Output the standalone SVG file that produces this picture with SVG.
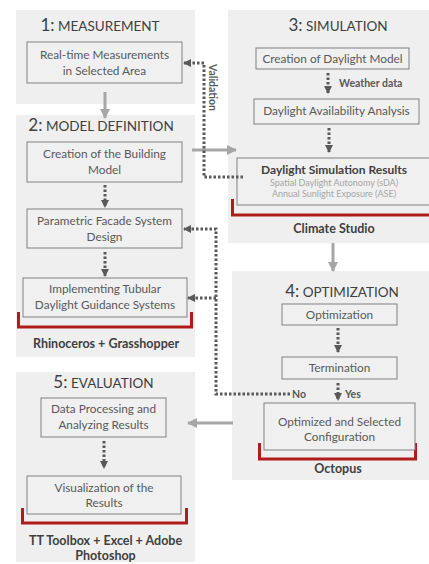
<svg xmlns="http://www.w3.org/2000/svg" width="429" height="564" viewBox="0 0 429 564">
<defs>
<marker id="ad" viewBox="0 0 8 8" refX="7" refY="4" markerWidth="8" markerHeight="8" markerUnits="userSpaceOnUse" orient="auto"><path d="M0,0 L8,4 L0,8 z" fill="#595959"/></marker>
<marker id="as" viewBox="0 0 10 10" refX="9" refY="5" markerWidth="10" markerHeight="10" markerUnits="userSpaceOnUse" orient="auto"><path d="M0,0 L10,5 L0,10 z" fill="#a6a6a6"/></marker>
</defs>
<style>
.panel{fill:#efefef}
.box{fill:#f0f0f0;stroke:#808080;stroke-width:1}
.t{font-family:Lato,"Liberation Sans",sans-serif;font-size:11.8px;fill:#595959;text-anchor:middle}
.ttl{font-family:Lato,"Liberation Sans",sans-serif;font-size:13.5px;fill:#404040;text-anchor:middle}
.num{font-size:17px}
.lbl{font-family:Lato,"Liberation Sans",sans-serif;font-size:12.5px;font-weight:bold;fill:#404040;text-anchor:middle}
.rt{font-family:Lato,"Liberation Sans",sans-serif;font-size:12px;font-weight:bold;fill:#404040;text-anchor:middle}
.sub{font-family:Lato,"Liberation Sans",sans-serif;font-size:9px;fill:#a6a6a6;text-anchor:middle}
.sm{font-family:Lato,"Liberation Sans",sans-serif;font-size:10.5px;font-weight:bold;fill:#595959}
.br{fill:none;stroke:#b01c1c;stroke-width:3}
.dot{fill:none;stroke:#595959;stroke-width:3;stroke-dasharray:2.5 2}
.sol{fill:none;stroke:#a6a6a6;stroke-width:3}
</style>
<g id="panel1">
<rect class="panel" x="16" y="10" width="179" height="94"/>
<text class="ttl" x="100" y="31"><tspan class="num">1:</tspan> MEASUREMENT</text>
</g>
<g id="n-measure">
<rect class="box" x="27" y="42" width="155" height="41"/>
<text class="t" x="104.5" y="59">Real-time Measurements</text>
<text class="t" x="104.5" y="75">in Selected Area</text>
</g>
<g id="panel2">
<rect class="panel" x="16" y="115" width="179" height="242"/>
<text class="ttl" x="101" y="131"><tspan class="num">2:</tspan> MODEL DEFINITION</text>
<path class="br" d="M18.5,312 V327 H191.5 V312"/>
<text class="lbl" x="106" y="348">Rhinoceros + Grasshopper</text>
</g>
<g id="n-building">
<rect class="box" x="27" y="142" width="155" height="40"/>
<text class="t" x="104.5" y="158">Creation of the Building</text>
<text class="t" x="104.5" y="174">Model</text>
</g>
<g id="n-facade">
<rect class="box" x="27" y="209" width="155" height="39"/>
<text class="t" x="104.5" y="225">Parametric Facade System</text>
<text class="t" x="104.5" y="241">Design</text>
</g>
<g id="n-tubular">
<rect class="box" x="23" y="278" width="164" height="39"/>
<text class="t" x="105" y="293">Implementing Tubular</text>
<text class="t" x="105" y="309">Daylight Guidance Systems</text>
</g>
<g id="panel5">
<rect class="panel" x="16" y="372" width="179" height="190"/>
<text class="ttl" x="103.5" y="388"><tspan class="num">5:</tspan> EVALUATION</text>
<path class="br" d="M22.5,508 V523 H186.5 V508"/>
<text class="lbl" x="105.5" y="545">TT Toolbox + Excel + Adobe</text>
<text class="lbl" x="105.5" y="560">Photoshop</text>
</g>
<g id="n-data">
<rect class="box" x="41" y="398" width="125" height="39"/>
<text class="t" x="103.5" y="413">Data Processing and</text>
<text class="t" x="103.5" y="429">Analyzing Results</text>
</g>
<g id="n-visual">
<rect class="box" x="27" y="476" width="154" height="38"/>
<text class="t" x="104" y="492">Visualization of the</text>
<text class="t" x="104" y="507">Results</text>
</g>
<g id="panel3">
<rect class="panel" x="228" y="10" width="201" height="233"/>
<text class="ttl" x="338" y="31"><tspan class="num">3:</tspan> SIMULATION</text>
<path class="br" d="M232.5,199 V215 H430"/>
<text class="lbl" x="334" y="233">Climate Studio</text>
</g>
<g id="n-daymodel">
<rect class="box" x="256" y="48" width="153" height="21"/>
<text class="t" x="332.5" y="63">Creation of Daylight Model</text>
</g>
<g id="n-avail">
<rect class="box" x="254" y="99" width="165" height="25"/>
<text class="t" x="336.5" y="115">Daylight Availability Analysis</text>
</g>
<g id="n-results">
<rect class="box" x="237" y="158" width="195" height="47"/>
<text class="rt" x="334" y="174">Daylight Simulation Results</text>
<text class="sub" x="334" y="186">Spatial Daylight Autonomy (sDA)</text>
<text class="sub" x="334" y="197">Annual Sunlight Exposure (ASE)</text>
</g>
<g id="panel4">
<rect class="panel" x="232" y="271" width="197" height="209"/>
<text class="ttl" x="342" y="297"><tspan class="num">4:</tspan> OPTIMIZATION</text>
<path class="br" d="M259.5,443 V459 H415.5 V443"/>
<text class="lbl" x="338" y="473">Octopus</text>
</g>
<g id="n-opt">
<rect class="box" x="282" y="304" width="115" height="21"/>
<text class="t" x="339.5" y="319">Optimization</text>
</g>
<g id="n-term">
<rect class="box" x="282" y="357" width="115" height="22"/>
<text class="t" x="339.5" y="372">Termination</text>
</g>
<g id="n-config">
<rect class="box" x="264" y="403" width="151" height="47"/>
<text class="t" x="339.5" y="426">Optimized and Selected</text>
<text class="t" x="339.5" y="441">Configuration</text>
</g>
<g id="connectors">
<line class="sol" x1="105" y1="92" x2="105" y2="118" marker-end="url(#as)"/>
<line class="sol" x1="192" y1="150" x2="236" y2="150" marker-end="url(#as)"/>
<line class="sol" x1="333" y1="243" x2="333" y2="271" marker-end="url(#as)"/>
<line class="sol" x1="233" y1="423" x2="188" y2="423" marker-end="url(#as)"/>
<line class="dot" x1="105" y1="185" x2="105" y2="207" marker-end="url(#ad)"/>
<line class="dot" x1="105" y1="252" x2="105" y2="276" marker-end="url(#ad)"/>
<line class="dot" x1="104" y1="441" x2="104" y2="468" marker-end="url(#ad)"/>
<line class="dot" x1="328" y1="73" x2="328" y2="93" marker-end="url(#ad)"/>
<line class="dot" x1="329" y1="128" x2="329" y2="152" marker-end="url(#ad)"/>
<line class="dot" x1="338" y1="328" x2="338" y2="352" marker-end="url(#ad)"/>
<line class="dot" x1="338" y1="383" x2="338" y2="400" marker-end="url(#ad)"/>
<path class="dot" d="M243,177 H204 V63 H184" marker-end="url(#ad)"/>
<path class="dot" d="M290,394 H216 V229 H184" marker-end="url(#ad)"/>
<line class="dot" x1="216" y1="298" x2="188" y2="298" marker-end="url(#ad)"/>
<text class="sm" x="0" y="0" transform="translate(209,64) rotate(90)">Validation</text>
<text class="sm" x="339" y="87">Weather data</text>
<text class="sm" x="292" y="398">No</text>
<text class="sm" x="345" y="398">Yes</text>
</g>
</svg>
